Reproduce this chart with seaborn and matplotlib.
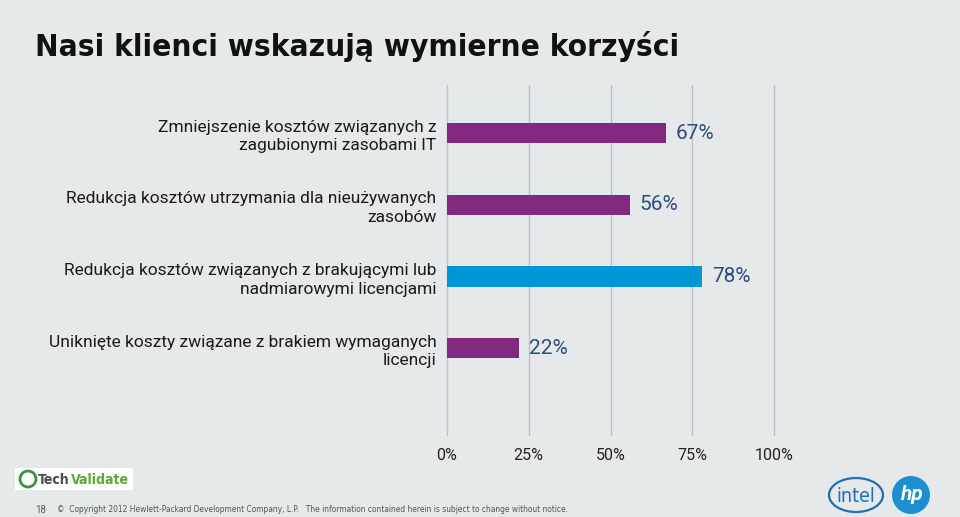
import matplotlib
matplotlib.use("Agg")
import matplotlib.pyplot as plt
from matplotlib.patches import Ellipse, Rectangle
import seaborn as sns
import pandas as pd

categories = [
    "Zmniejszenie kosztów związanych z\nzagubionymi zasobami IT",
    "Redukcja kosztów utrzymania dla nieużywanych\nzasobów",
    "Redukcja kosztów związanych z brakującymi lub\nnadmiarowymi licencjami",
    "Uniknięte koszty związane z brakiem wymaganych\nlicencji",
]
values = [67, 56, 78, 22]
bar_colors = ["#832A80", "#832A80", "#0096D6", "#832A80"]
xticks = [0, 25, 50, 75, 100]
xtick_labels = ["0%", "25%", "50%", "75%", "100%"]
title = "Nasi klienci wskazują wymierne korzyści"
footer = "©  Copyright 2012 Hewlett-Packard Development Company, L.P.   The information contained herein is subject to change without notice."

df = pd.DataFrame({"cat": categories, "val": values})

sns.set_theme(style="white")
plt.rcParams["font.family"] = ["Roboto", "DejaVu Sans"]
bg = "#E6E9EA"

fig = plt.figure(figsize=(9.6, 5.17), dpi=100, facecolor=bg)
ax = fig.add_axes([447/960, 1-435/517, (774-447)/960, (435-85)/517])
ax.set_facecolor(bg)

sns.barplot(data=df, x="val", y="cat", hue="cat", palette=bar_colors,
            legend=False, width=0.28, ax=ax, saturation=1, orient="h",
            linewidth=0, edgecolor="none")

ax.set_xlim(0, 100)
ax.set_ylim(3 + 1.21, -0.67)
ax.set_xticks(xticks)
ax.set_xticklabels(xtick_labels, fontsize=11.5, color="#222222")
for x in xticks:
    ax.axvline(x, color="#BDC1C4", lw=1, zorder=0, clip_on=False)
for s in ax.spines.values():
    s.set_visible(False)
ax.tick_params(axis="both", length=0)
ax.tick_params(axis="x", pad=9)
ax.tick_params(axis="y", pad=7.5)
ax.set_xlabel("")
ax.set_ylabel("")
for lab in ax.get_yticklabels():
    lab.set_fontsize(12.5)
    lab.set_color("#1A1A1A")
    lab.set_linespacing(1.3)
    lab.set_horizontalalignment("right")

for i, v in enumerate(values):
    ax.annotate(f"{v}%", xy=(v, i), xytext=(7, 0), textcoords="offset points",
                va="center", ha="left", fontsize=15, color="#2D4B7A")

renderer = fig.canvas.get_renderer()

def fit_width(t, target_px):
    w = t.get_window_extent(renderer=renderer).width
    t.set_fontsize(t.get_fontsize() * target_px / w)

ttl = fig.text(35/960, 1-47/517, title, fontsize=29, fontweight="bold",
               family=["DejaVu Sans"], fontstretch="condensed", color="#111111",
               va="center", ha="left")
fit_width(ttl, 642)

# footer
fig.text(35/960, 1-510/517, "18", fontsize=7, color="#555555", va="center")
ft = fig.text(57/960, 1-510/517, footer, fontsize=7.2, color="#555555", va="center",
              family=["DejaVu Sans"], fontstretch="condensed")
fit_width(ft, 515)

# TechValidate logo
fig.patches.append(Rectangle((15/960, 1-490/517), 118/960, 22/517,
                             transform=fig.transFigure, facecolor="white", edgecolor="none"))
fig.patches.append(Ellipse((28/960, 1-479/517), 16/960, 16/517, transform=fig.transFigure,
                           facecolor="white", edgecolor="#3E8E41", lw=2))
tech = fig.text(38/960, 1-480/517, "Tech", fontsize=10.5, fontweight="bold", color="#4D4D4D",
                va="center", family=["DejaVu Sans"], fontstretch="condensed")
fig.canvas.draw()
fit_width(tech, 32)
fig.canvas.draw()
val = fig.text(0, 0, "Validate", fontsize=tech.get_fontsize(), fontweight="bold",
               color="#5FA83A", va="center", family=["DejaVu Sans"], fontstretch="condensed")
bb = tech.get_window_extent(renderer=renderer)
val.set_position(((bb.x1 + 1) / 960, 1-480/517))

# intel logo
fig.patches.append(Ellipse((856/960, 1-495/517), 54/960, 34/517, transform=fig.transFigure,
                           facecolor="none", edgecolor="#1F6FB5", lw=1.6))
fig.text(856/960, 1-496/517, "intel", fontsize=14, color="#1F6FB5", va="center",
         ha="center", family=["DejaVu Sans"], fontstretch="condensed")
# hp logo
fig.patches.append(Ellipse((911/960, 1-495/517), 38/960, 38/517, transform=fig.transFigure,
                           facecolor="#1B8FD0", edgecolor="none"))
fig.text(911/960, 1-495/517, "hp", fontsize=15, color="white", va="center", ha="center",
         fontweight="bold", style="italic")

fig.savefig("out.png", dpi=100, facecolor=bg)
